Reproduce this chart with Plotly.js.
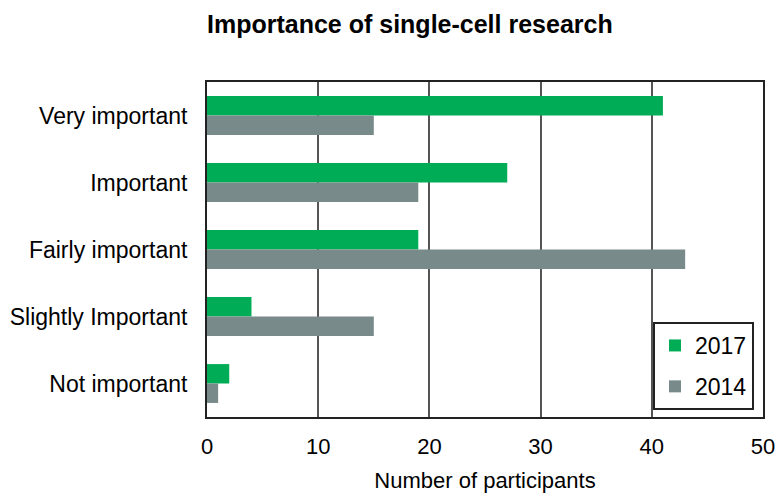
<!DOCTYPE html>
<html>
<head>
<meta charset="utf-8">
<script src="https://cdn.plot.ly/plotly-3.0.1.min.js"></script>
<style>html,body{margin:0;padding:0;background:#fff;}#chart{width:779px;height:493px;}</style>
</head>
<body>
<div id="chart"></div>
<script>
const categories = ["Very important", "Important", "Fairly important", "Slightly Important", "Not important"];
const values2017 = [41, 27, 19, 4, 2];
const values2014 = [15, 19, 43, 15, 1];
const seriesNames = ["2017", "2014"];
const xTicks = [0, 10, 20, 30, 40, 50];

const font = "Liberation Sans, Arial, sans-serif";
const traces = [
  {type: "bar", orientation: "h", name: seriesNames[0], y: categories, x: values2017,
   marker: {color: "#00AD56", line: {width: 0}}, legendgroup: "a"},
  {type: "bar", orientation: "h", name: seriesNames[1], y: categories, x: values2014,
   marker: {color: "#788A8A", line: {width: 0}}, legendgroup: "b"}
];
const layout = {
  width: 779, height: 493,
  margin: {l: 207, r: 16, t: 82, b: 76},
  paper_bgcolor: "#fff", plot_bgcolor: "#fff",
  font: {family: font, color: "#000", size: 22},
  title: {text: "<b>Importance of single-cell research</b>", x: 207/779, xanchor: "left", y: 1 - 24/493, yanchor: "middle",
          font: {family: font, size: 25, color: "#000"}},
  barmode: "group", bargap: 0.42, bargroupgap: 0,
  xaxis: {range: [0, 50], tickvals: xTicks, ticktext: xTicks.map(String), showgrid: true, gridcolor: "#555", gridwidth: 1.5,
          zeroline: false, showline: true, mirror: true, linecolor: "#222", linewidth: 2, ticks: "",
          tickfont: {size: 22}, ticklabelstandoff: 9,
          title: {text: "Number of participants", font: {size: 22}, standoff: 14}},
  yaxis: {type: "category", categoryorder: "array", categoryarray: categories, autorange: "reversed",
          showgrid: false, zeroline: false, showline: true, mirror: true, linecolor: "#222", linewidth: 2,
          ticks: "", tickfont: {size: 23}, ticklabelstandoff: 13},
  showlegend: true,
  legend: {x: (653-207)/556, xanchor: "left", y: (417-322)/335, yanchor: "top", bordercolor: "#222", borderwidth: 2,
           bgcolor: "#fff", font: {size: 23}, traceorder: "grouped", tracegroupgap: 8, itemwidth: 30}
};
Plotly.newPlot("chart", traces, layout, {displayModeBar: false});
</script>
</body>
</html>
